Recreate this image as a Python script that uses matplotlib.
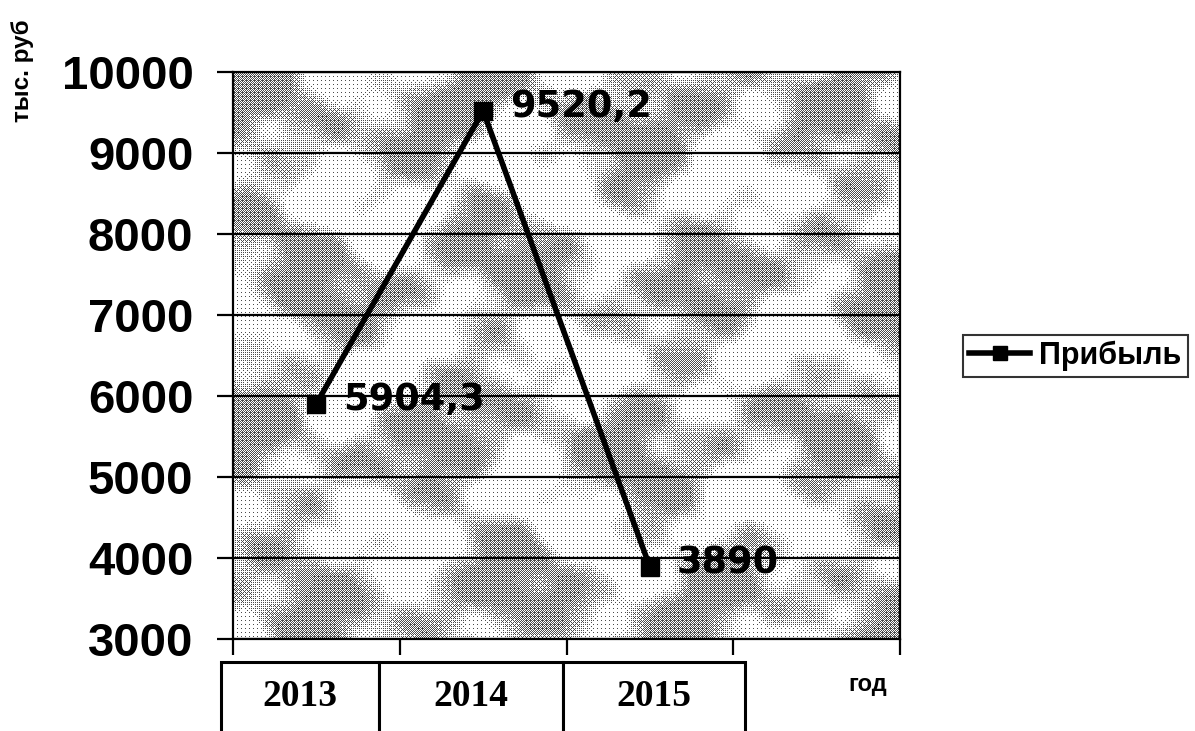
import numpy as np
import matplotlib.pyplot as plt

years = ['2013', '2014', '2015']
profit = [5904.3, 9520.2, 3890]
profit_labels = ['5904,3', '9520,2', '3890']
n_slots = 4
y_ticks = [3000, 4000, 5000, 6000, 7000, 8000, 9000, 10000]

fig = plt.figure(figsize=(11.95, 7.31), dpi=100)
ax = fig.add_axes([233 / 1195, 1 - 639 / 731, 667 / 1195, 567 / 731])

# granite-like dithered fill behind the plot area
h, w = 567, 667
yy, xx = np.mgrid[0:h, 0:w].astype(float)
field = (np.sin(xx / 31 + 1.5 * np.sin(yy / 47)) + np.sin(yy / 26 + 1.1 * np.cos(xx / 43))
         + 0.7 * np.sin((xx + yy) / 19) + 0.6 * np.cos((xx - 2 * yy) / 21)
         + 0.3 * np.sin(xx / 7.3) * np.cos(yy / 9.1))
field = (field - field.min()) / (field.max() - field.min())
dark = 0.04 + 0.5 * np.clip((field - 0.38) * 3.2, 0, 1)
bayer = np.array([[0, 8, 2, 10], [12, 4, 14, 6], [3, 11, 1, 9], [15, 7, 13, 5]]) / 16.0
thresh = np.tile(bayer, (h // 4 + 1, w // 4 + 1))[:h, :w]
tex = np.where(dark > thresh, 0.3, 1.0)
ax.imshow(tex, cmap='gray', vmin=0, vmax=1, extent=[0, n_slots, y_ticks[0], y_ticks[-1]],
          aspect='auto', interpolation='nearest', zorder=0)

x = np.arange(len(years)) + 0.5
ax.plot(x, profit, color='black', lw=4, marker='s', ms=13, zorder=3, label='Прибыль')
for xi, v, lab in zip(x, profit, profit_labels):
    ax.annotate(lab, (xi, v), xytext=(27, 4), textcoords='offset pixels', ha='left', va='center',
                fontsize=26.5, fontweight='bold', family='DejaVu Sans', zorder=4)

ax.set_xlim(0, n_slots)
ax.set_ylim(y_ticks[0], y_ticks[-1])
ax.set_yticks(y_ticks)
ax.set_xticks(range(n_slots + 1))
ax.set_xticklabels([])
ax.yaxis.grid(True, color='black', lw=1.6, zorder=1)
ax.set_axisbelow(False)
for s in ax.spines.values():
    s.set_linewidth(1.6)
ax.tick_params(axis='both', direction='out', length=11.5, width=1.6)
ax.tick_params(axis='y', pad=17)
for t in ax.get_yticklabels():
    t.set_fontfamily('Liberation Sans')
    t.set_fontweight('bold')
    t.set_fontsize(34)

# table with years under the axis
tbl = ax.table(cellText=[years], cellLoc='center', colWidths=[158, 184, 182],
               bbox=[-12 / 667, -93 / 567, 524 / 667, 70 / 567])
tbl.auto_set_font_size(False)
for cell in tbl.get_celld().values():
    cell.set_linewidth(2.2)
    cell.set_edgecolor('black')
    cell.set_facecolor('white')
    cell.visible_edges = 'LTR'
    cell.get_text().set_fontfamily('Liberation Serif')
    cell.get_text().set_fontweight('bold')
    cell.get_text().set_fontsize(27)

fig.text(23 / 1195, 1 - 71 / 731, 'тыс. руб', rotation=90, ha='center', va='center',
         fontsize=17.5, fontweight='bold', family='Liberation Sans')
fig.text(868 / 1195, 1 - 685 / 731, 'год', ha='center', va='center',
         fontsize=17, fontweight='bold', family='Liberation Sans')

leg = ax.legend(loc='center left', bbox_to_anchor=(963 / 1195, 1 - 356 / 731),
                bbox_transform=fig.transFigure, frameon=True, fancybox=False,
                prop={'family': 'Liberation Sans', 'weight': 'bold', 'size': 22},
                handlelength=2.0, handletextpad=0.3, borderpad=0.2, borderaxespad=0,
                markerscale=0.8)
leg.get_frame().set_edgecolor('black')
leg.get_frame().set_linewidth(1.5)

fig.savefig('out.png', dpi=100)
